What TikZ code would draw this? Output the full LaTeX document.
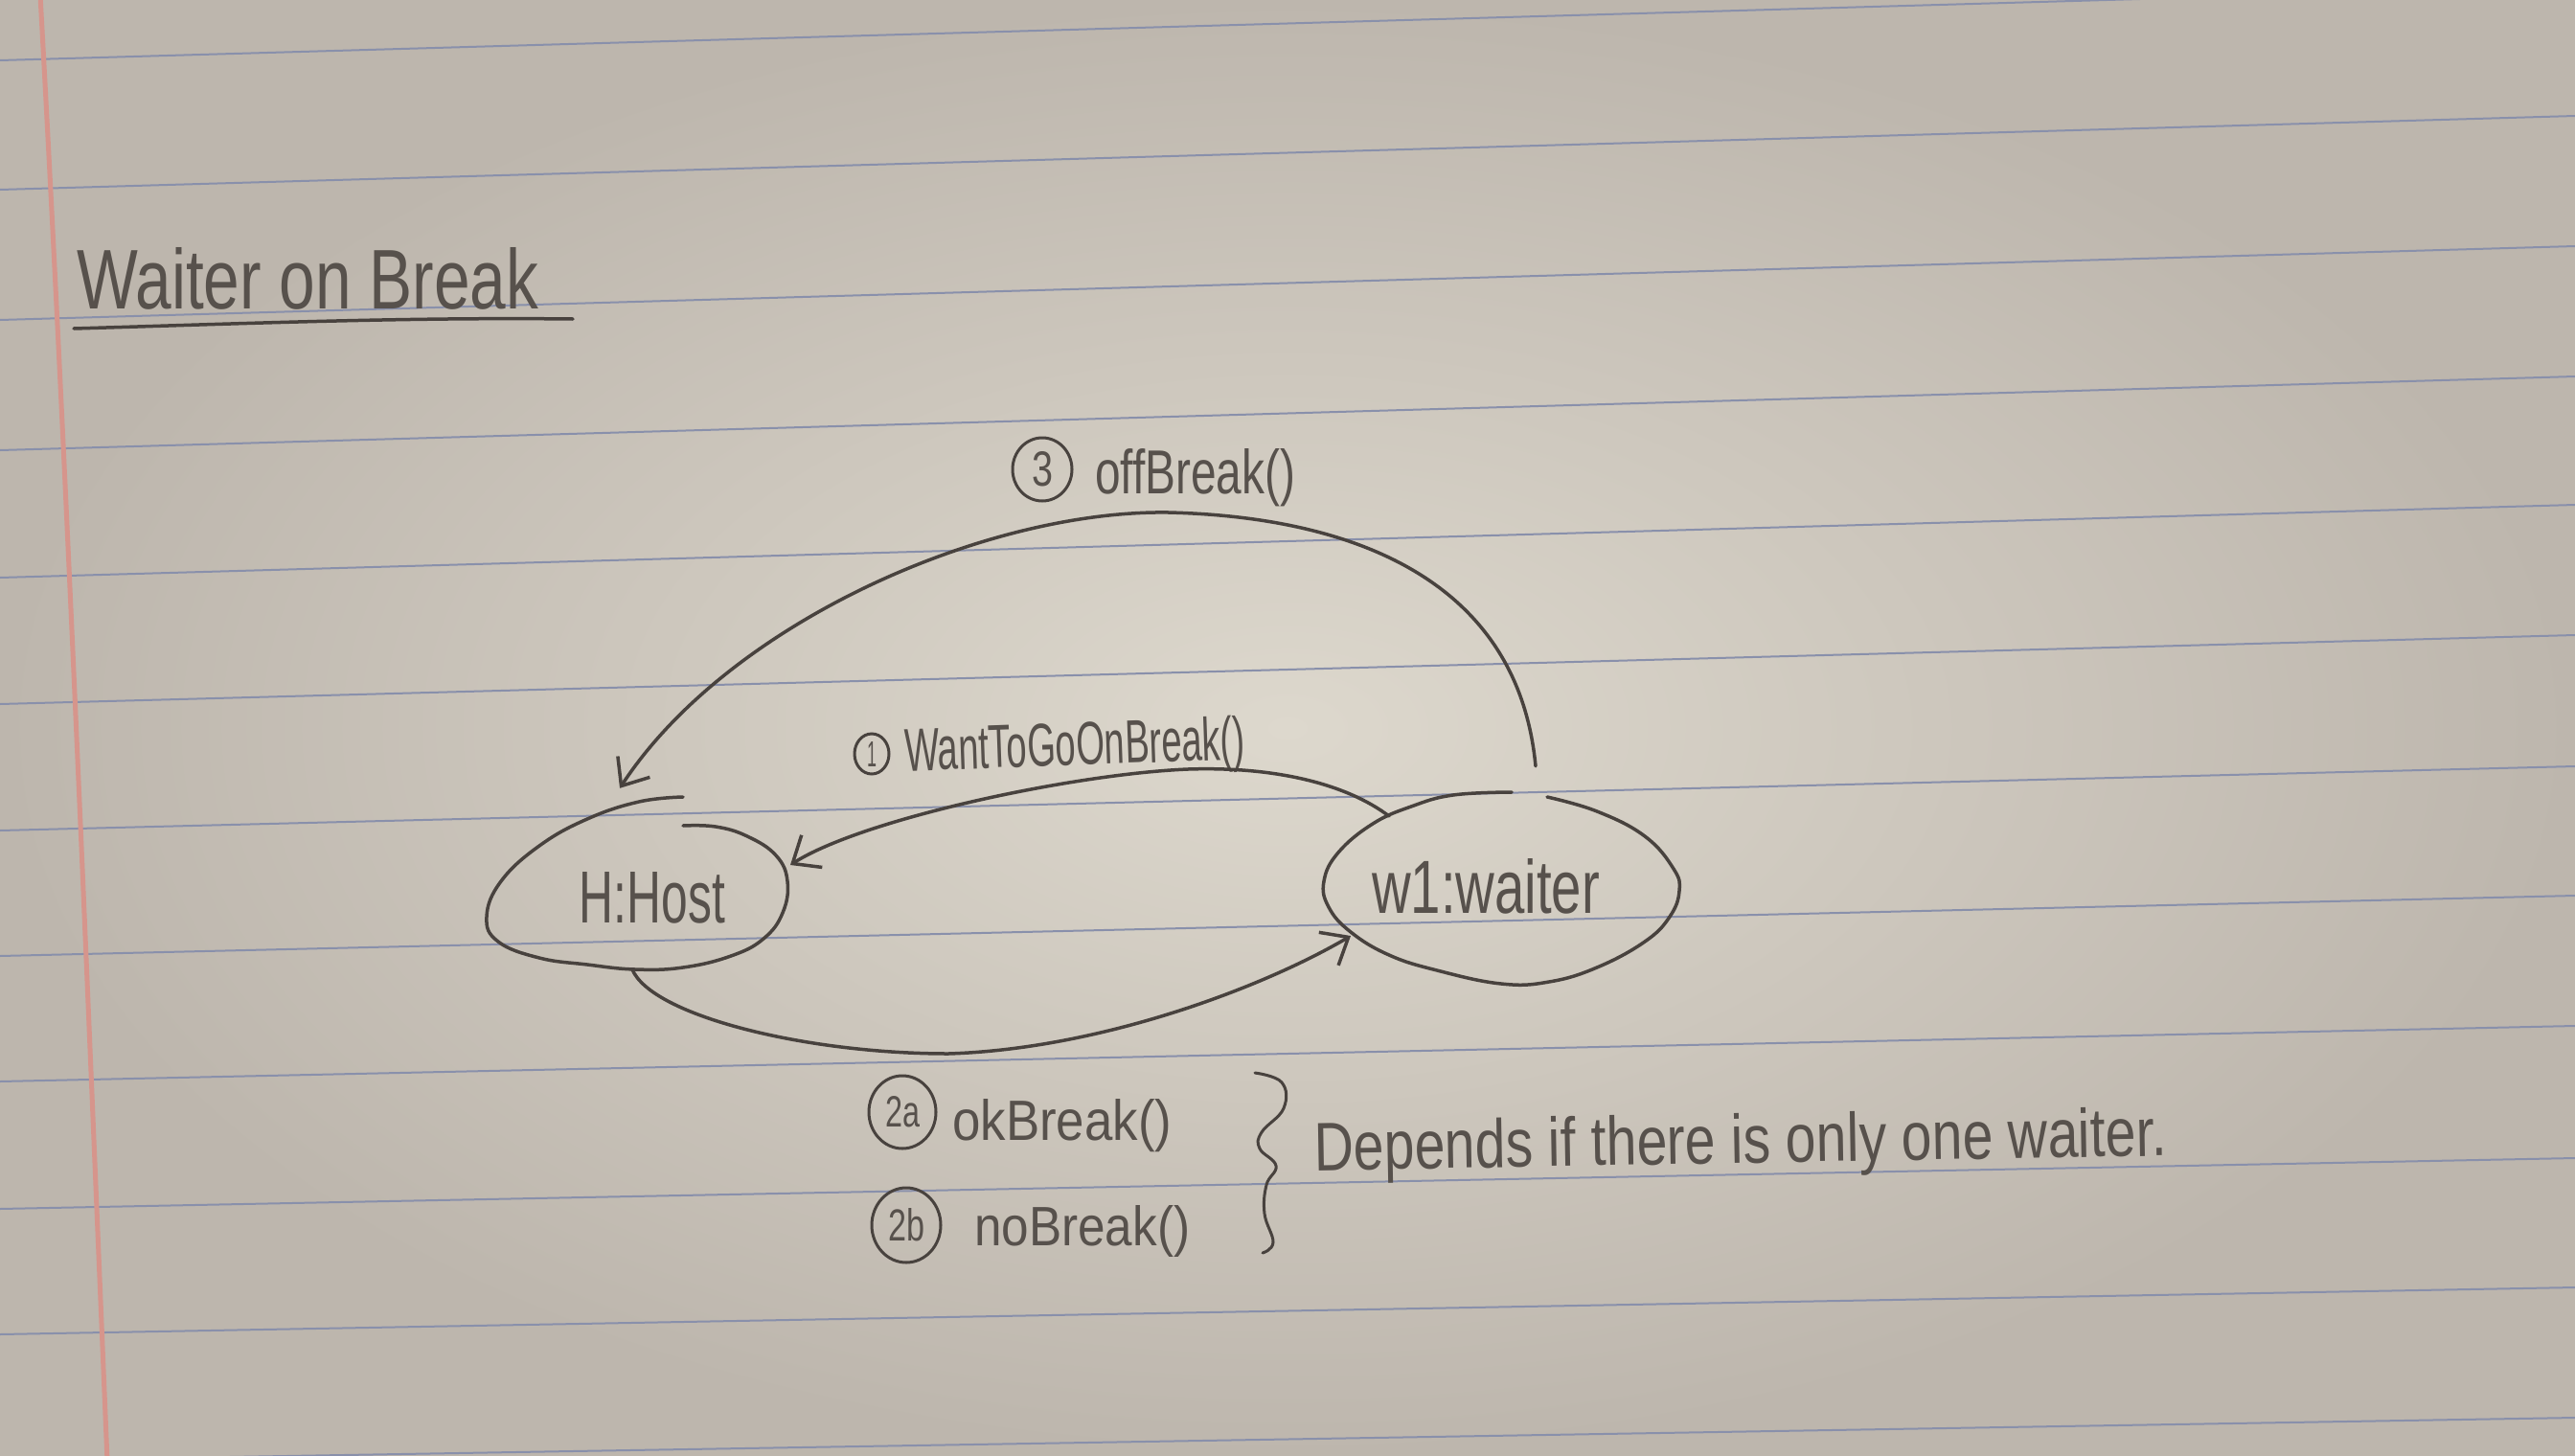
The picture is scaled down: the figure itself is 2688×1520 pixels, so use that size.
\documentclass[tikz,border=0pt]{standalone}
\usepackage{fontspec}
\usepackage{graphicx}
\newfontfamily\handfont{Liberation Sans}
\usetikzlibrary{arrows.meta,shapes.geometric}
\definecolor{paperin}{HTML}{DDD8CD}
\definecolor{paperout}{HTML}{BDB6AD}
\definecolor{ruleblue}{HTML}{8990AB}
\definecolor{marginred}{HTML}{D6958C}
\definecolor{pencil}{HTML}{48423E}
\definecolor{pencilText}{HTML}{57514C}
\newcommand\hw[3]{\resizebox{#1pt}{#2pt}{\handfont #3}}
\begin{document}
\begin{tikzpicture}[x=1pt,y=-1pt,
  stroke/.style={draw=pencil, line width=3.5pt, line cap=round, line join=round},
  conn/.style={stroke, -{Straight Barb[length=24pt,width=40pt]}},
  lbl/.style={inner sep=0pt, text=pencilText, anchor=base west},
  state/.style={ellipse, inner sep=0pt, text=pencilText},
  num/.style={ellipse, draw=pencil, line width=3pt, inner sep=0pt, text=pencilText},
  ruleline/.style={draw=ruleblue, line width=2pt}
]
% paper
\shade[inner color=paperin, outer color=paperout] (0,0) rectangle (2688,1520);
\useasboundingbox (0,0) rectangle (2688,1520);
\foreach \a/\b in {63/-14,198/121,334/257,470/393,603/527,735/663,867/800,998/935,1129/1071,1262/1209,1393/1344,1525/1480}
  \draw[ruleline] (0,\a) -- (2688,\b);
\draw[draw=marginred, line width=5pt] (42,-5) .. controls (70,500) and (90,1000) .. (112,1525);

% title
\node[lbl] (title) at (80,322) {\hw{482}{64}{Waiter on Break}};
\draw[stroke] (77,343) .. controls (250,338) and (420,331) .. (598,333);

% states
\node[state, minimum width=314pt, minimum height=180pt] (H) at (681,937) {\hw{152}{53}{H:Host}};
\node[state, minimum width=372pt, minimum height=200pt] (W) at (1551,925) {\hw{238}{57}{w1:waiter}};
\draw[stroke] plot[smooth, tension=0.7] coordinates {(713,832) (667,837) (613,855) (563,883) (523,920) (508,957) (520,983) (563,1000) (613,1007) (663,1012) (713,1010) (763,998) (797,980) (817,953) (822,920) (810,893) (780,873) (747,863) (713,862)};
\draw[stroke] plot[smooth, tension=0.7] coordinates {(1615,832) (1667,847) (1717,873) (1747,907) (1753,930) (1743,957) (1717,983) (1667,1010) (1617,1025) (1567,1027) (1500,1013) (1450,997) (1410,973) (1387,947) (1382,920) (1397,890) (1433,860) (1473,842) (1517,830) (1578,827)};

% labels
\node[num, minimum width=62pt, minimum height=66pt] (n3) at (1088,490) {\hw{22}{36}{3}};
\node[lbl] (l3) at (1143,515) {\hw{209}{47}{offBreak()}};
\node[num, minimum width=36pt, minimum height=42pt] (n1) at (910,787) {\hw{10}{26}{1}};
\node[lbl, rotate=2] (l1) at (945,805) {\hw{355}{46}{WantToGoOnBreak()}};
\node[num, minimum width=70pt, minimum height=76pt] (n2a) at (942,1161) {\hw{36}{32}{2a}};
\node[lbl] (l2a) at (994,1190) {\hw{229}{43}{okBreak()}};
\node[num, minimum width=72pt, minimum height=78pt] (n2b) at (946,1279) {\hw{38}{34}{2b}};
\node[lbl] (l2b) at (1017,1300) {\hw{225}{42}{noBreak()}};
\node[lbl, rotate=1] (dep) at (1372,1222) {\hw{890}{52}{Depends if there is only one waiter.}};

% brace
\draw[stroke, line width=3pt] plot[smooth, tension=0.7] coordinates {(1310,1120) (1338,1130) (1340,1157) (1317,1182) (1315,1199) (1332,1217) (1322,1237) (1320,1267) (1329,1297) (1318,1308)};

% connectors
\draw[conn] ([xshift=52pt,yshift=25pt]W.north) .. controls (1585,610) and (1420,540) .. (1220,535) .. controls (1030,532) and (760,650) .. ([xshift=-34pt,yshift=24pt]H.north);
\draw[conn] ([xshift=-101pt,yshift=73pt]W.center) .. controls (1405,818) and (1330,800) .. (1240,803) .. controls (1120,808) and (900,855) .. ([xshift=144pt,yshift=34pt]H.center);
\draw[conn] ([xshift=-21pt,yshift=-75pt]H.center) .. controls (680,1060) and (840,1100) .. (990,1100) .. controls (1150,1095) and (1320,1030) .. ([xshift=-141pt,yshift=-52pt]W.center);
\end{tikzpicture}
\end{document}
